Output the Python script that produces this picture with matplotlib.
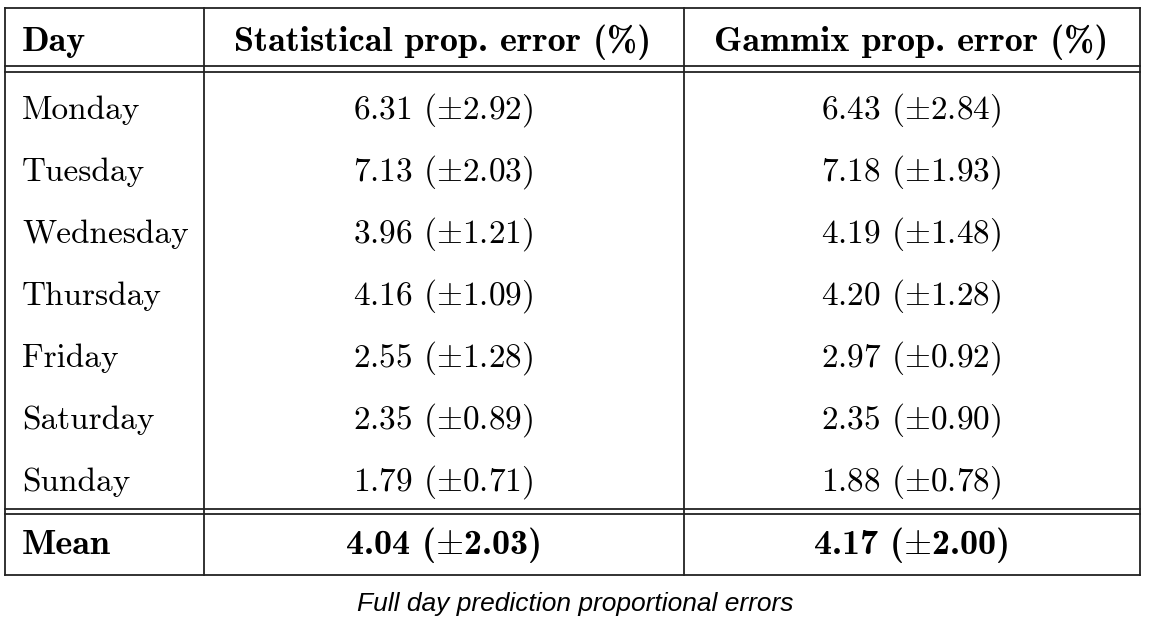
import matplotlib
matplotlib.use("Agg")
import matplotlib.pyplot as plt

plt.rcParams['mathtext.fontset'] = 'cm'

days = ["Monday", "Tuesday", "Wednesday", "Thursday", "Friday", "Saturday", "Sunday"]
stat_mean = ["6.31", "7.13", "3.96", "4.16", "2.55", "2.35", "1.79"]
stat_sd = ["2.92", "2.03", "1.21", "1.09", "1.28", "0.89", "0.71"]
gam_mean = ["6.43", "7.18", "4.19", "4.20", "2.97", "2.35", "1.88"]
gam_sd = ["2.84", "1.93", "1.48", "1.28", "0.92", "0.90", "0.78"]
headers = ["Day", "Statistical prop. error (%)", "Gammix prop. error (%)"]
overall = ["4.04", "2.03", "4.17", "2.00"]
caption = "Full day prediction proportional errors"

W, H = 1149, 627
fig = plt.figure(figsize=(W / 100, H / 100), dpi=100)
ax = fig.add_axes([0, 0, 1, 1])
ax.set_xlim(0, W)
ax.set_ylim(H, 0)
ax.axis("off")

lw = 1.3
left, right, top, bottom = 5, 1140, 8, 575
c1, c2 = 204, 684
for y in [top, 66, 72, 509, 514, bottom]:
    ax.plot([left, right], [y, y], color="#222222", lw=lw)
for x in [left, c1, c2, right]:
    ax.plot([x, x], [top, bottom], color="#222222", lw=lw)

fs = 24
hfs = 26
xs = 443
xg = 911
ax.text(22, 42, headers[0], family="cmb10", fontsize=hfs, va="center")
ax.text(xs, 42, headers[1], family="cmb10", fontsize=hfs, va="center", ha="center")
ax.text(xg, 42, headers[2], family="cmb10", fontsize=hfs, va="center", ha="center")

row_y = [110, 172, 234, 296, 358, 420, 482]
for i, d in enumerate(days):
    y = row_y[i]
    ax.text(22, y, d, family="cmr10", fontsize=fs, va="center")
    ax.text(xs, y, f"{stat_mean[i]} ($\\pm${stat_sd[i]})", family="cmr10",
            fontsize=fs, va="center", ha="center")
    ax.text(xg, y, f"{gam_mean[i]} ($\\pm${gam_sd[i]})", family="cmr10",
            fontsize=fs, va="center", ha="center")

ym = 545
ax.text(22, ym, "Mean", family="cmb10", fontsize=hfs, va="center")
ax.text(xs, ym, f"{overall[0]} ($\\pm${overall[1]})", family="cmb10",
        fontsize=hfs, va="center", ha="center")
ax.text(xg, ym, f"{overall[2]} ($\\pm${overall[3]})", family="cmb10",
        fontsize=hfs, va="center", ha="center")

ax.text(575, 604, caption, family="Liberation Sans", style="italic",
        fontsize=19, va="center", ha="center")

fig.savefig("out.png", dpi=100, facecolor="white")
